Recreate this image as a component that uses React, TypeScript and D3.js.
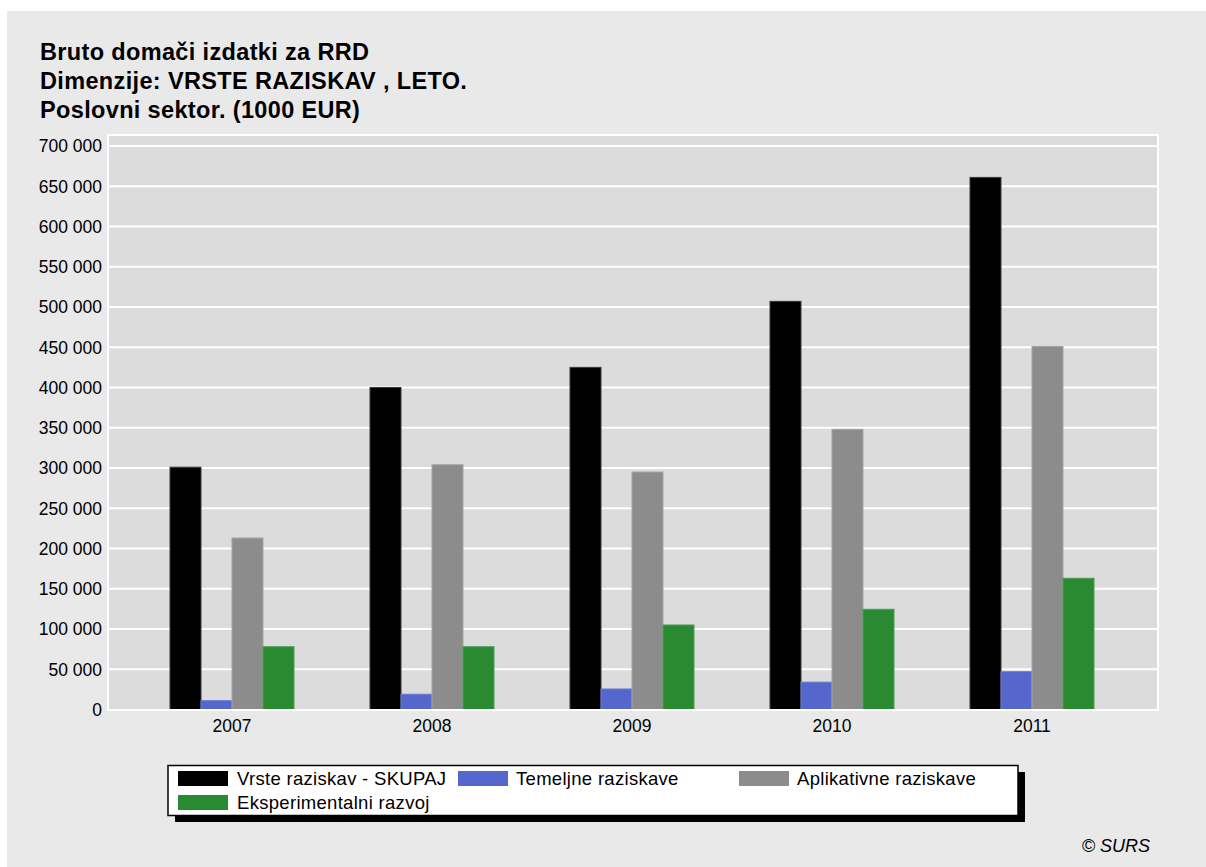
import React from 'react';
import * as d3 from 'd3';

const years = ['2007', '2008', '2009', '2010', '2011'];
const seriesNames = ['Vrste raziskav - SKUPAJ', 'Temeljne raziskave', 'Aplikativne raziskave', 'Eksperimentalni razvoj'];
const skupaj = [301000, 400000, 425000, 507000, 661000];
const temeljne = [11000, 19000, 25500, 34000, 47000];
const aplikativne = [213000, 304000, 295000, 348000, 451000];
const eksperimentalni = [78000, 78000, 105000, 124500, 163000];
const yTicks = [0, 50000, 100000, 150000, 200000, 250000, 300000, 350000, 400000, 450000, 500000, 550000, 600000, 650000, 700000];
const titleLines = ['Bruto domači izdatki za RRD', 'Dimenzije: VRSTE RAZISKAV , LETO.', 'Poslovni sektor. (1000 EUR)'];

const colors = ['#000000', '#5566cc', '#8c8c8c', '#2a8a32'];
const strokes = ['#3a3a3a', '#6e7cd2', '#a3a3a3', '#4c9c53'];
const FONT = '"Liberation Sans", Arial, sans-serif';

const fmt = (v: number) => d3.format(',')(v).replace(/,/g, ' ');

export default function App() {
  const W = 1206, H = 867;
  const plot = { x0: 108, x1: 1158, y0: 135, y1: 710 };
  const values = [skupaj, temeljne, aplikativne, eksperimentalni];

  const x = d3.scaleBand<string>().domain(years).range([132, 1132]).paddingInner(0);
  const groupW = 124;
  const xInner = d3.scaleBand<string>().domain(seriesNames).range([0, groupW]);
  const y = d3.scaleLinear().domain([0, 700000]).range([709.5, 146]);

  const legendItems = [
    { name: seriesNames[0], sx: 178, tx: 237, row: 0, c: 0 },
    { name: seriesNames[1], sx: 458, tx: 516, row: 0, c: 1 },
    { name: seriesNames[2], sx: 739, tx: 797, row: 0, c: 2 },
    { name: seriesNames[3], sx: 178, tx: 237, row: 1, c: 3 },
  ];

  return (
    <svg width={W} height={H} style={{ position: 'absolute', left: 0, top: 0 }} fontFamily={FONT}>
      <rect x={0} y={0} width={W} height={H} fill="#ffffff" />
      <rect x={7} y={11} width={W - 7} height={H - 11} fill="#e9e9e9" />
      {titleLines.map((t, i) => (
        <text key={i} x={40} y={60 + i * 29} fontSize={23.5} fontWeight="bold" fill="#000" letterSpacing={0.35}>{t}</text>
      ))}
      <rect x={plot.x0} y={plot.y0} width={plot.x1 - plot.x0} height={plot.y1 - plot.y0} fill="#dcdcdc" stroke="#ffffff" strokeWidth={2} />
      {yTicks.map((t) => (
        <g key={t}>
          {t > 0 && <line x1={plot.x0} x2={plot.x1} y1={y(t)} y2={y(t)} stroke="#ffffff" strokeWidth={2} />}
          <text x={102} y={y(t)} dy="0.36em" textAnchor="end" fontSize={17.5} fill="#000">{fmt(t)}</text>
        </g>
      ))}
      {years.map((yr, i) => (
        <g key={yr} transform={`translate(${(x(yr) as number) + (x.bandwidth() - groupW) / 2},0)`}>
          {values.map((vals, s) => (
            <rect key={s} x={xInner(seriesNames[s]) as number} y={y(vals[i])} width={xInner.bandwidth()} height={y(0) - y(vals[i])}
              fill={colors[s]} stroke={strokes[s]} strokeWidth={1} />
          ))}
        </g>
      ))}
      <line x1={plot.x0} x2={plot.x1} y1={710} y2={710} stroke="#ffffff" strokeWidth={2} />
      {years.map((yr) => (
        <text key={yr} x={(x(yr) as number) + x.bandwidth() / 2} y={732} textAnchor="middle" fontSize={17.5} fill="#000">{yr}</text>
      ))}
      <rect x={175} y={772} width={850} height={50} fill="#000" />
      <rect x={168} y={765.5} width={850} height={50} fill="#ffffff" stroke="#000" strokeWidth={1.5} />
      {legendItems.map((it) => (
        <g key={it.name}>
          <rect x={it.sx} y={771 + it.row * 24} width={50} height={15} fill={colors[it.c]} />
          <text x={it.tx} y={785 + it.row * 24} fontSize={18.5} letterSpacing={0.3} fill="#000">{it.name}</text>
        </g>
      ))}
      <text x={1150} y={852} textAnchor="end" fontSize={18} fontStyle="italic" fill="#000">© SURS</text>
    </svg>
  );
}
